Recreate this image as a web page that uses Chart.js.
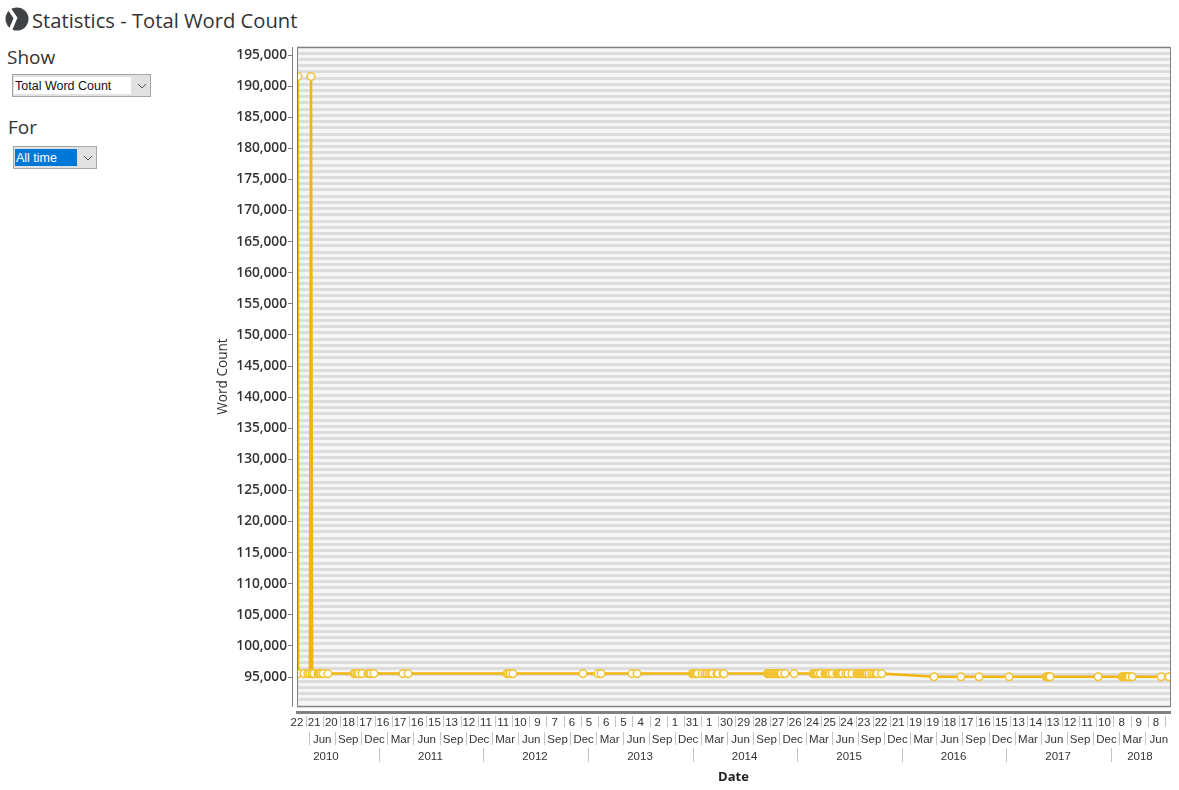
<!DOCTYPE html>
<html lang="en">
<head>
    <meta charset="UTF-8">
    <title>Statistics - Total Word Count</title>
    <script src="https://cdn.jsdelivr.net/npm/chart.js"></script>
    <style>
        html, body { margin: 0; padding: 0; background: #fff; width: 1179px; height: 790px; overflow: hidden; }
        body { font-family: "Open Sans", "Noto Sans", sans-serif; color: #333; }
        .abs { position: absolute; white-space: nowrap; }
        #heading { left: 32px; top: 6px; font-size: 20.2px; line-height: 28px; }
        .panelLabel { font-size: 19px; line-height: 24px; }
        .combo { box-sizing: border-box; background: #e1e1e1; border: 1px solid #a6a6a6; height: 23px; }
        .combo span { position: absolute; left: 1px; top: 2px; height: 17px; line-height: 18px; font-size: 12.5px; font-family: "Liberation Sans", sans-serif; color: #111; background: #fff; padding-left: 1px; }
        .combo svg { position: absolute; right: 3px; top: 8px; }
        #chartCanvas { position: absolute; left: 205px; top: 30px; }
    </style>
</head>
<body>
    <svg class="abs" style="left:5px;top:7px" width="24" height="24" viewBox="0 0 24 24">
        <circle cx="12" cy="12" r="11.5" fill="#3f4245"/>
        <path d="M3 0 L10.5 11 L5 24" fill="none" stroke="#fff" stroke-width="3.5"/>
    </svg>
    <div class="abs" id="heading">Statistics - Total Word Count</div>

    <div class="abs panelLabel" style="left:7px;top:45px">Show</div>
    <div class="abs combo" style="left:12px;top:74px;width:139px">
        <span style="width:116px">Total Word Count</span>
        <svg width="10" height="6"><path d="M1 1 L5 5 L9 1" fill="none" stroke="#555"/></svg>
    </div>

    <div class="abs panelLabel" style="left:8px;top:115px">For</div>
    <div class="abs combo" style="left:13px;top:146px;width:84px">
        <span style="width:61px;background:#0078d7;color:#fff">All time</span>
        <svg width="10" height="6"><path d="M1 1 L5 5 L9 1" fill="none" stroke="#555"/></svg>
    </div>

    <canvas id="chartCanvas" width="974" height="760"></canvas>

    <script>
        // Days are counted from 22 Mar 2010, the first entry on the axis
        const wordDays = [
            3, 4, 24, 38, 45, 49, 53, 59, 73, 77, 80, 84, 91, 108,
            199, 204, 210, 215, 227, 248, 253, 258, 269, 370, 388,
            733, 739, 744, 754, 999, 1051, 1062, 1170, 1188,
            1380, 1383, 1387, 1390, 1394, 1399, 1415, 1425, 1432, 1439, 1446, 1451, 1467, 1471, 1488, 1491,
            1642, 1645, 1649, 1652, 1656, 1659, 1663, 1666, 1670, 1673, 1677, 1680, 1684, 1687, 1691, 1704, 1736,
            1802, 1806, 1809, 1813, 1816, 1820, 1828, 1844, 1848, 1851, 1855, 1858, 1862, 1870, 1886, 1890, 1893, 1897, 1900, 1905, 1917, 1924, 1938,
            1956, 1959, 1963, 1966, 1970, 1973, 1977, 1980, 1984, 1987, 1991, 1998, 2008, 2015, 2022, 2026, 2042,
            2225, 2319, 2382, 2487, 2616, 2620, 2623, 2627, 2630, 2798,
            2882, 2885, 2889, 2892, 2896, 2899, 2903, 2906, 2917, 3018, 3046
        ];
        const wordCounts = [
            191550, 95550, 95550, 95550, 95550, 191550, 95550, 95550, 95550, 95550, 95550, 95550, 95550, 95550,
            95550, 95550, 95550, 95550, 95550, 95550, 95550, 95550, 95550, 95550, 95550,
            95550, 95550, 95550, 95550, 95550, 95550, 95550, 95550, 95550,
            95550, 95550, 95550, 95550, 95550, 95550, 95550, 95550, 95550, 95550, 95550, 95550, 95550, 95550, 95550, 95550,
            95550, 95550, 95550, 95550, 95550, 95550, 95550, 95550, 95550, 95550, 95550, 95550, 95550, 95550, 95550, 95550, 95550,
            95550, 95550, 95550, 95550, 95550, 95550, 95550, 95550, 95550, 95550, 95550, 95550, 95550, 95550, 95550, 95550, 95550, 95550, 95550, 95550, 95550, 95550, 95550,
            95550, 95550, 95550, 95550, 95550, 95550, 95550, 95550, 95550, 95550, 95550, 95550, 95550, 95550, 95550, 95550, 95550,
            95050, 95050, 95050, 95050, 95050, 95050, 95050, 95050, 95050, 95050,
            95050, 95050, 95050, 95050, 95050, 95050, 95050, 95050, 95050, 95050, 95050
        ];

        const yTickValues = [
            95000, 100000, 105000, 110000, 115000, 120000, 125000, 130000, 135000, 140000, 145000,
            150000, 155000, 160000, 165000, 170000, 175000, 180000, 185000, 190000, 195000
        ];

        const dayLabels = [
            '22', '21', '20', '18', '17', '16', '17', '16', '15', '13', '12', '11', '11', '10', '9', '7', '6',
            '5', '6', '5', '4', '2', '1', '31', '1', '30', '29', '28', '27', '26', '24', '25', '24', '23', '22',
            '21', '19', '19', '18', '17', '16', '15', '13', '14', '13', '12', '11', '10', '8', '9', '8'
        ];
        const dayValues = [
            0, 60, 120, 180, 240, 300, 360, 420, 480, 540, 600, 660, 720, 780, 840, 900, 960,
            1020, 1080, 1140, 1200, 1260, 1320, 1380, 1440, 1500, 1560, 1620, 1680, 1740, 1800, 1860, 1920, 1980, 2040,
            2100, 2160, 2220, 2280, 2340, 2400, 2460, 2520, 2580, 2640, 2700, 2760, 2820, 2880, 2940, 3000
        ];
        const daySeparators = [
            33, 93, 153, 213, 273, 333, 393, 453, 513, 573, 633, 693, 753, 813, 873, 933, 993,
            1053, 1113, 1173, 1233, 1293, 1353, 1413, 1473, 1533, 1593, 1653, 1713, 1773, 1833, 1893, 1953, 2013, 2073,
            2133, 2193, 2253, 2313, 2373, 2433, 2493, 2553, 2613, 2673, 2733, 2793, 2853, 2913, 2973, 3033
        ];

        const quarterLabels = [
            'Jun', 'Sep', 'Dec', 'Mar', 'Jun', 'Sep', 'Dec', 'Mar', 'Jun', 'Sep', 'Dec', 'Mar', 'Jun', 'Sep', 'Dec', 'Mar', 'Jun',
            'Sep', 'Dec', 'Mar', 'Jun', 'Sep', 'Dec', 'Mar', 'Jun', 'Sep', 'Dec', 'Mar', 'Jun', 'Sep', 'Dec', 'Mar', 'Jun'
        ];
        const quarterValues = [
            88, 179, 271, 362, 453, 545, 636, 727, 818, 910, 1001, 1092, 1184, 1275, 1366, 1458, 1549,
            1640, 1731, 1823, 1914, 2005, 2097, 2188, 2279, 2370, 2462, 2553, 2644, 2735, 2827, 2918, 3010
        ];
        const quarterSeparators = [
            43, 134, 226, 317, 408, 500, 591, 682, 773, 865, 956, 1047, 1139, 1230, 1321, 1413, 1504,
            1595, 1686, 1778, 1869, 1960, 2052, 2143, 2234, 2325, 2417, 2508, 2599, 2690, 2782, 2873, 2964
        ];

        const yearLabels = ['2010', '2011', '2012', '2013', '2014', '2015', '2016', '2017', '2018'];
        const yearValues = [101, 466, 831, 1198, 1563, 1928, 2293, 2658, 2944];
        const yearSeparators = [287, 651, 1017, 1384, 1748, 2115, 2477, 2844];

        const axisGrey = '#808080';
        const textColor = '#333333';
        const rowFont = { family: '"Liberation Sans", sans-serif', size: 11.5 };

        // One row of the date axis: labels sit between the separator marks
        function dateRow(weight, labels, values, separators, rowHeight, markLength, labelShift) {
            const names = new Map(values.map((v, i) => [v, labels[i]]));
            const marks = new Set(separators);
            return {
                type: 'linear', position: 'bottom', weight: weight, min: 0, max: 3049,
                border: { display: false },
                grid: {
                    drawOnChartArea: false, tickLength: markLength, tickWidth: 1,
                    tickColor: ctx => (ctx.tick && marks.has(ctx.tick.value)) ? '#c4c4c4' : 'rgba(0,0,0,0)'
                },
                ticks: {
                    autoSkip: false, maxRotation: 0, minRotation: 0, padding: labelShift - markLength,
                    color: textColor, font: rowFont,
                    callback: value => names.has(value) ? names.get(value) : ''
                },
                afterBuildTicks: scale => {
                    scale.ticks = values.concat(separators).sort((a, b) => a - b).map(v => ({ value: v }));
                },
                afterFit: scale => { scale.height = rowHeight; }
            };
        }

        // Scale with no marks of its own, only there to leave a gap or carry a rule
        function bareBottom(weight, rowHeight, border) {
            return {
                type: 'linear', position: 'bottom', weight: weight, min: 0, max: 3049,
                border: border,
                grid: { display: false },
                ticks: { display: false },
                afterFit: scale => { scale.height = rowHeight; }
            };
        }

        const plotBackground = {
            id: 'plotBackground',
            beforeDraw(chart) {
                const a = chart.chartArea, c = chart.ctx;
                c.save();
                c.fillStyle = '#f5f5f5';
                c.fillRect(a.left, a.top, a.right - a.left, a.bottom - a.top);
                c.restore();
            },
            afterDraw(chart) {
                const a = chart.chartArea, c = chart.ctx;
                c.save();
                c.strokeStyle = axisGrey;
                c.lineWidth = 1;
                c.strokeRect(a.left + 0.5, a.top + 0.5, a.right - a.left, a.bottom - a.top);
                c.restore();
            }
        };

        const yearRow = dateRow(4, yearLabels, yearValues, yearSeparators, 37, 14, 2);
        yearRow.title = {
            display: true, text: 'Date', color: '#222222', padding: 0,
            font: { family: '"Open Sans", sans-serif', size: 13, weight: '700' }
        };

        new Chart(document.getElementById('chartCanvas'), {
            type: 'line',
            data: {
                datasets: [{
                    label: 'Total Word Count',
                    data: wordDays.map((d, i) => ({ x: d, y: wordCounts[i] })),
                    borderColor: '#f2b50f',
                    borderWidth: 2.5,
                    tension: 0,
                    pointRadius: 3.8,
                    pointBorderWidth: 1.5,
                    pointBackgroundColor: '#ffffff',
                    pointBorderColor: '#f2c230'
                }]
            },
            plugins: [plotBackground],
            options: {
                responsive: false,
                animation: false,
                layout: { padding: { top: 17, right: 9, bottom: 5, left: 0 } },
                plugins: { legend: { display: false }, tooltip: { enabled: false } },
                scales: {
                    x: bareBottom(0, 6, { display: false }),
                    xRule: bareBottom(1, 4, { display: true, color: axisGrey, width: 3 }),
                    xDay: dateRow(2, dayLabels, dayValues, daySeparators, 16, 11, 0),
                    xQuarter: dateRow(3, quarterLabels, quarterValues, quarterSeparators, 16, 13, 1),
                    xYear: yearRow,
                    y: {
                        type: 'linear', position: 'left', weight: 0, min: 90340, max: 196290,
                        border: { display: false },
                        grid: { color: '#dddddd', lineWidth: 3, drawTicks: false },
                        ticks: { display: false, stepSize: 1000, autoSkip: false, includeBounds: false },
                        afterFit: scale => { scale.width = 5; }
                    },
                    yLabels: {
                        type: 'linear', position: 'left', weight: 1, min: 90340, max: 196290,
                        border: { display: true, color: axisGrey, width: 1 },
                        grid: { drawOnChartArea: false, tickLength: 4, color: axisGrey },
                        ticks: {
                            autoSkip: false, padding: 1, color: textColor,
                            font: { family: '"Open Sans", sans-serif', size: 13.7, weight: '600' },
                            callback: value => value.toLocaleString('en-US')
                        },
                        title: {
                            display: true, text: 'Word Count', color: textColor,
                            padding: { top: 10, bottom: 0 },
                            font: { family: '"Open Sans", sans-serif', size: 13.6 }
                        },
                        afterBuildTicks: scale => { scale.ticks = yTickValues.map(v => ({ value: v })); },
                        afterFit: scale => { scale.width = 87; }
                    }
                }
            }
        });
    </script>
</body>
</html>
